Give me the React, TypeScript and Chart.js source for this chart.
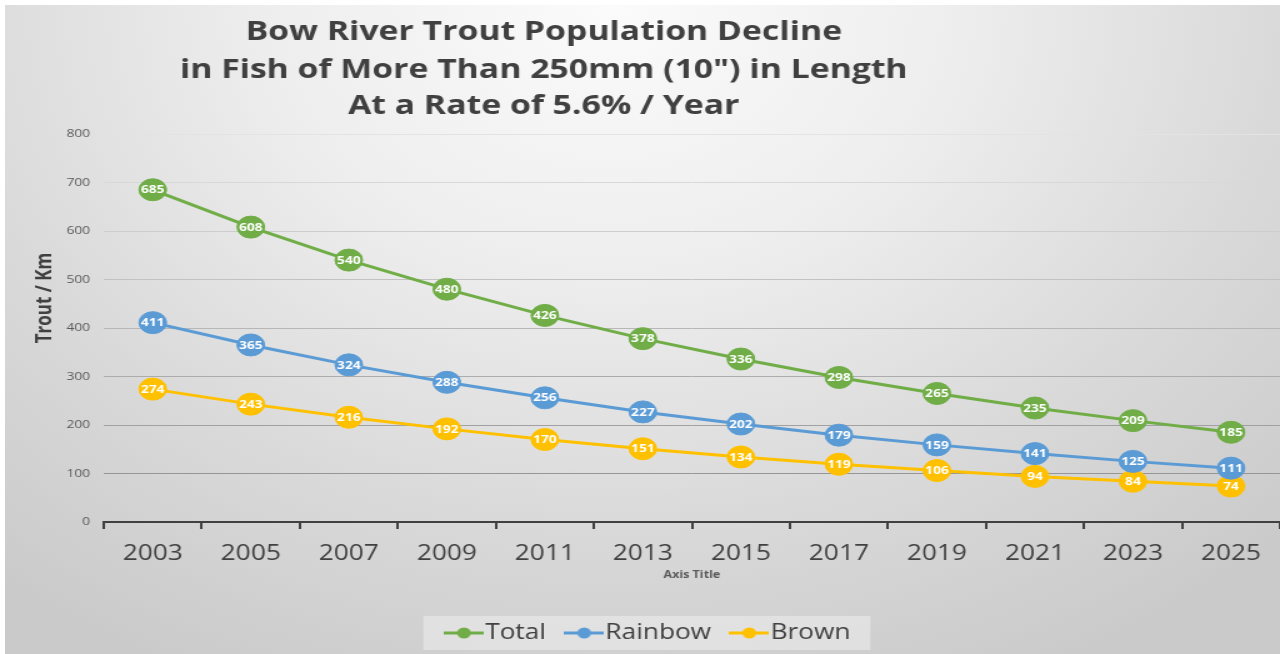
import React, { useEffect, useRef } from "react";
import { Chart, registerables } from "chart.js";

Chart.register(...registerables);

// ---- data ----
const years = ["2003", "2005", "2007", "2009", "2011", "2013", "2015", "2017", "2019", "2021", "2023", "2025"];
const totalValues = [685, 608, 540, 480, 426, 378, 336, 298, 265, 235, 209, 185];
const rainbowValues = [411, 365, 324, 288, 256, 227, 202, 179, 159, 141, 125, 111];
const brownValues = [274, 243, 216, 192, 170, 151, 134, 119, 106, 94, 84, 74];
const seriesNames = ["Total", "Rainbow", "Brown"];
const seriesColors = ["#70AD47", "#5B9BD5", "#FFC000"];
const titleLines = [
  "Bow River Trout Population Decline",
  "in Fish of More Than 250mm (10\") in Length",
  "At a Rate of 5.6% / Year",
];
const yAxisTitle = "Trout / Km";
const xAxisTitle = "Axis Title";
const yMin = 0;
const yMax = 800;
const yStep = 100;

// ---- layout ----
const CW = 1032;
const CH = 649;
const SX = 1.25;
const FONT = "'Open Sans', 'DejaVu Sans', sans-serif";

function makeLegendMarker(color: string) {
  const c = document.createElement("canvas");
  c.width = 32;
  c.height = 14;
  const g = c.getContext("2d")!;
  g.strokeStyle = color;
  g.lineWidth = 3;
  g.beginPath();
  g.moveTo(0, 7);
  g.lineTo(32, 7);
  g.stroke();
  g.fillStyle = color;
  g.beginPath();
  g.arc(16, 7, 5.5, 0, Math.PI * 2);
  g.fill();
  return c;
}

const titlePlugin = {
  id: "multiLineTitle",
  afterDraw(chart: any) {
    const ctx = chart.ctx;
    ctx.save();
    ctx.font = `bold 27px ${FONT}`;
    ctx.fillStyle = "#404040";
    ctx.textAlign = "center";
    ctx.textBaseline = "middle";
    const ys = [27, 65, 101];
    titleLines.forEach((t, i) => ctx.fillText(t, 431, ys[i]));
    // vertical axis title
    ctx.translate(32, 293);
    ctx.rotate(-Math.PI / 2);
    ctx.font = `bold 17px ${FONT}`;
    ctx.fillStyle = "#404040";
    ctx.fillText(yAxisTitle, 0, 0);
    ctx.restore();
  },
};

const legendBoxPlugin = {
  id: "legendBox",
  beforeDraw(chart: any) {
    const lg = chart.legend;
    if (!lg || !lg.legendHitBoxes || !lg.legendHitBoxes.length) return;
    const hb = lg.legendHitBoxes;
    const first = hb[0];
    const last = hb[hb.length - 1];
    const x0 = first.left - 26;
    const x1 = last.left + last.width + 16;
    const yc = first.top + first.height / 2;
    const ctx = chart.ctx;
    ctx.save();
    ctx.fillStyle = "rgba(255,255,255,0.35)";
    ctx.fillRect(x0, yc - 17, x1 - x0, 34);
    ctx.restore();
  },
};

const dataLabelPlugin = {
  id: "pointLabels",
  afterDatasetsDraw(chart: any) {
    const ctx = chart.ctx;
    ctx.save();
    ctx.font = `bold 11px ${FONT}`;
    ctx.fillStyle = "#ffffff";
    ctx.textAlign = "center";
    ctx.textBaseline = "middle";
    chart.data.datasets.forEach((ds: any, di: number) => {
      const meta = chart.getDatasetMeta(di);
      meta.data.forEach((pt: any, i: number) => {
        ctx.fillText(String(ds.data[i]), pt.x, pt.y + 0.5);
      });
    });
    ctx.restore();
  },
};

function gridColor(ctx: any) {
  const v = ctx.tick ? ctx.tick.value : 0;
  const t = Math.max(0, Math.min(1, (v - 100) / 700));
  const c = Math.round(150 + t * 77);
  return `rgb(${c},${c},${c})`;
}

export default function App() {
  const ref = useRef<HTMLCanvasElement>(null);

  useEffect(() => {
    if (!ref.current) return;
    const markers = seriesColors.map(makeLegendMarker);
    const seriesValues = [totalValues, rainbowValues, brownValues];
    const chart = new Chart(ref.current, {
      type: "line",
      data: {
        labels: years,
        datasets: seriesNames.map((name, i) => ({
          label: name,
          data: seriesValues[i],
          borderColor: seriesColors[i],
          backgroundColor: seriesColors[i],
          pointBackgroundColor: seriesColors[i],
          pointBorderColor: seriesColors[i],
          borderWidth: 3,
          pointRadius: 11,
          pointHoverRadius: 11,
          pointBorderWidth: 1,
          tension: 0,
          fill: false,
        })),
      },
      options: {
        responsive: false,
        animation: false,
        devicePixelRatio: 1,
        layout: { padding: { top: 129, left: 13, right: 8, bottom: 0.5 } },
        plugins: {
          title: { display: false },
          tooltip: { enabled: false },
          legend: {
            display: true,
            position: "bottom",
            labels: {
              usePointStyle: true,
              pointStyleWidth: 13,
              padding: 24,
              color: "#404040",
              font: { family: FONT, size: 21 },
              generateLabels: (c: any) =>
                c.data.datasets.map((ds: any, i: number) => ({
                  text: ds.label,
                  fillStyle: ds.borderColor,
                  strokeStyle: ds.borderColor,
                  fontColor: "#404040",
                  lineWidth: 0,
                  pointStyle: markers[i],
                  hidden: false,
                  datasetIndex: i,
                })),
            },
          },
        },
        scales: {
          x: {
            type: "category",
            offset: true,
            afterFit: (s: any) => {
              s.height = 76.5;
            },
            border: { display: true, color: "#404040", width: 2 },
            grid: {
              display: true,
              offset: true,
              drawOnChartArea: false,
              drawTicks: true,
              tickLength: 7,
              color: "#404040",
              lineWidth: 2,
            },
            ticks: {
              color: "#404040",
              font: { family: FONT, size: 21 },
              padding: 12,
              maxRotation: 0,
              autoSkip: false,
            },
            title: {
              display: true,
              text: xAxisTitle,
              color: "#595959",
              font: { family: FONT, size: 10, weight: "bold" },
              padding: { top: 0, bottom: 17.5 },
            },
          },
          y: {
            min: yMin,
            max: yMax,
            afterFit: (s: any) => {
              s.width = 66;
            },
            border: { display: false },
            grid: { color: gridColor, lineWidth: 1, drawTicks: false },
            ticks: {
              stepSize: yStep,
              color: "#595959",
              font: { family: FONT, size: 11 },
              padding: 11,
            },
            title: { display: false, text: yAxisTitle },
          },
        },
      },
      plugins: [legendBoxPlugin, dataLabelPlugin, titlePlugin],
    } as any);
    return () => chart.destroy();
  }, []);

  return (
    <div
      style={{
        position: "fixed",
        left: 0,
        top: 0,
        width: 1280,
        height: 654,
        overflow: "hidden",
        background: "#ffffff",
      }}
    >
      <div
        style={{
          position: "absolute",
          left: 5,
          top: 5,
          width: CW * SX,
          height: CH,
          background:
            "radial-gradient(ellipse 75% 115% at 47% 0%, #fbfbfb 0%, #eeeeee 35%, #d9d9d9 70%, #cacaca 100%)",
        }}
      >
        <canvas
          ref={ref}
          width={CW}
          height={CH}
          style={{ width: `${CW * SX}px`, height: `${CH}px`, display: "block" }}
        />
      </div>
    </div>
  );
}
